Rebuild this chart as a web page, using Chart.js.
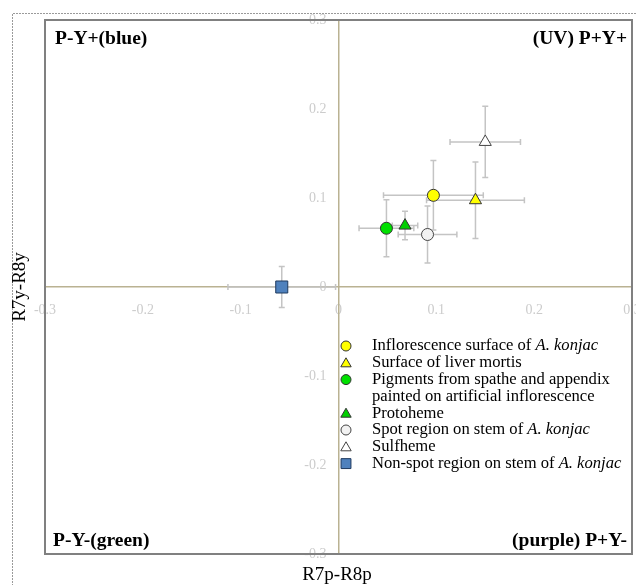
<!DOCTYPE html>
<html>
<head>
<meta charset="utf-8">
<script src="https://cdn.jsdelivr.net/npm/chart.js@4/dist/chart.umd.min.js"></script>
<style>
  html, body { margin: 0; padding: 0; background: #ffffff; }
  #wrap { width: 636px; height: 585px; }
</style>
</head>
<body>
<div id="wrap"><canvas id="c" width="636" height="585"></canvas></div>
<script>
// ---- data ----
const seriesLabels = [
  'Inflorescence surface of A. konjac',
  'Surface of liver mortis',
  'Pigments from spathe and appendix\npainted on artificial inflorescence',
  'Protoheme',
  'Spot region on stem of A. konjac',
  'Sulfheme',
  'Non-spot region on stem of A. konjac'
];
const xValues = [0.097, 0.140, 0.049, 0.068, 0.091, 0.150, -0.058];
const yValues = [0.103, 0.0975, 0.066, 0.069, 0.059, 0.163, 0.000];
const xErrors = [0.051, 0.050, 0.028, 0.013, 0.030, 0.036, 0.055];
const yErrors = [0.039, 0.043, 0.032, 0.016, 0.032, 0.040, 0.023];
const xTickLabels = ['-0.3', '-0.2', '-0.1', '0', '0.1', '0.2', '0.3'];
const yTickLabels = ['-0.3', '-0.2', '-0.1', '0', '0.1', '0.2', '0.3'];
const quadrantLabels = ['P-Y+(blue)', '(UV) P+Y+', 'P-Y-(green)', '(purple) P+Y-'];
const xTitle = 'R7p-R8p';
const yTitle = 'R7y-R8y';

// ---- styles ----
const markerStyles = [
  { pointStyle: 'circle',   radius: 6,   bg: '#ffff00', border: '#333333' },
  { pointStyle: 'triangle', radius: 7,   bg: '#ffff00', border: '#333333' },
  { pointStyle: 'circle',   radius: 6,   bg: '#00e000', border: '#333333' },
  { pointStyle: 'triangle', radius: 7,   bg: '#00d000', border: '#333333' },
  { pointStyle: 'circle',   radius: 6,   bg: '#f2f2f2', border: '#444444' },
  { pointStyle: 'triangle', radius: 7,   bg: '#ffffff', border: '#444444' },
  { pointStyle: 'rect',     radius: 8.5, bg: '#4f81bd', border: '#1f3a5f' }
];

const SERIF = '"Liberation Serif", "Times New Roman", serif';
const AXIS_COLOR = '#bab292';
const TICK_COLOR = '#cccccc';

const datasets = seriesLabels.map((lab, i) => ({
  label: lab,
  data: [{ x: xValues[i], y: yValues[i] }],
  xErr: xErrors[i],
  yErr: yErrors[i],
  pointStyle: markerStyles[i].pointStyle,
  pointRadius: markerStyles[i].radius,
  pointHoverRadius: markerStyles[i].radius,
  backgroundColor: markerStyles[i].bg,
  borderColor: markerStyles[i].border,
  borderWidth: 1
}));

const zeroPad = s => { s.paddingLeft = 0; s.paddingRight = 0; s.paddingTop = 0; s.paddingBottom = 0; };

const frame = {
  id: 'frame',
  beforeDraw(chart) {
    const ctx = chart.ctx;
    ctx.save();
    ctx.strokeStyle = '#9a9a9a';
    ctx.lineWidth = 1;
    ctx.setLineDash([2, 1]);
    ctx.beginPath();
    ctx.moveTo(12.5, 640);
    ctx.lineTo(12.5, 13.5);
    ctx.lineTo(700, 13.5);
    ctx.stroke();
    ctx.restore();
  },
  beforeDatasetsDraw(chart) {
    const ctx = chart.ctx;
    const xs = chart.scales.x, ys = chart.scales.y;
    ctx.save();
    // y tick labels, placed left of the centred vertical axis
    const axisX = xs.getPixelForValue(0);
    ctx.fillStyle = TICK_COLOR;
    ctx.font = '14px ' + SERIF;
    ctx.textAlign = 'right';
    ctx.textBaseline = 'middle';
    ys.ticks.forEach((t, i) => {
      ctx.fillText(yTickLabels[i], axisX - 12, ys.getPixelForValue(t.value));
    });
    // error bars
    ctx.strokeStyle = '#c4c4c4';
    ctx.lineWidth = 1.5;
    const cap = 3;
    chart.data.datasets.forEach(ds => {
      ds.data.forEach(p => {
        const px = xs.getPixelForValue(p.x), py = ys.getPixelForValue(p.y);
        const x1 = xs.getPixelForValue(p.x - ds.xErr), x2 = xs.getPixelForValue(p.x + ds.xErr);
        const y1 = ys.getPixelForValue(p.y - ds.yErr), y2 = ys.getPixelForValue(p.y + ds.yErr);
        ctx.beginPath();
        ctx.moveTo(x1, py); ctx.lineTo(x2, py);
        ctx.moveTo(x1, py - cap); ctx.lineTo(x1, py + cap);
        ctx.moveTo(x2, py - cap); ctx.lineTo(x2, py + cap);
        ctx.moveTo(px, y1); ctx.lineTo(px, y2);
        ctx.moveTo(px - cap, y1); ctx.lineTo(px + cap, y1);
        ctx.moveTo(px - cap, y2); ctx.lineTo(px + cap, y2);
        ctx.stroke();
      });
    });
    ctx.restore();
  },
  afterDraw(chart) {
    const ctx = chart.ctx;
    const a = chart.chartArea;
    ctx.save();
    // plot box
    ctx.strokeStyle = '#808080';
    ctx.lineWidth = 2;
    ctx.strokeRect(a.left, a.top, a.right - a.left, a.bottom - a.top);

    // quadrant labels
    ctx.fillStyle = '#000000';
    ctx.font = 'bold 19.5px ' + SERIF;
    ctx.textBaseline = 'alphabetic';
    ctx.textAlign = 'left';
    ctx.fillText(quadrantLabels[0], a.left + 10, a.top + 24);
    ctx.fillText(quadrantLabels[2], a.left + 8, a.bottom - 8);
    ctx.textAlign = 'right';
    ctx.fillText(quadrantLabels[1], a.right - 5, a.top + 24);
    ctx.fillText(quadrantLabels[3], a.right - 5, a.bottom - 8);

    // axis titles
    ctx.font = '19px ' + SERIF;
    ctx.textAlign = 'center';
    ctx.fillText(xTitle, 337, 580);
    ctx.save();
    ctx.translate(25, 287);
    ctx.rotate(-Math.PI / 2);
    ctx.fillText(yTitle, 0, 0);
    ctx.restore();

    // legend
    const lx = 346, tx = 372;
    let ly = 346;
    const lh = 16.8;
    const fs = 16.6;
    chart.data.datasets.forEach((ds, i) => {
      ctx.fillStyle = ds.backgroundColor;
      ctx.strokeStyle = ds.borderColor;
      ctx.lineWidth = 1;
      const r = ds.pointStyle === 'triangle' ? 6 : (ds.pointStyle === 'rect' ? 7 : 5);
      Chart.helpers.drawPoint(ctx, { pointStyle: ds.pointStyle, radius: r, rotation: 0, borderWidth: 1 }, lx, ly + (ds.pointStyle === 'triangle' ? 1 : 0));
      const lines = ds.label.split('\n');
      lines.forEach(line => {
        ctx.fillStyle = '#000000';
        ctx.textAlign = 'left';
        ctx.textBaseline = 'middle';
        let x = tx;
        const parts = line.split('A. konjac');
        parts.forEach((part, k) => {
          ctx.font = fs + 'px ' + SERIF;
          ctx.fillText(part, x, ly);
          x += ctx.measureText(part).width;
          if (k < parts.length - 1) {
            ctx.font = 'italic ' + fs + 'px ' + SERIF;
            ctx.fillText('A. konjac', x, ly);
            x += ctx.measureText('A. konjac').width;
          }
        });
        ly += lh;
      });
    });
    ctx.restore();
  }
};

new Chart(document.getElementById('c'), {
  type: 'scatter',
  data: { datasets },
  options: {
    responsive: false,
    animation: false,
    devicePixelRatio: 1,
    layout: { autoPadding: false, padding: { left: 45, top: 20, right: 4, bottom: 31 } },
    plugins: { legend: { display: false }, tooltip: { enabled: false } },
    scales: {
      x: {
        type: 'linear', min: -0.3, max: 0.3,
        position: { y: 0 },
        grid: { display: false, drawTicks: false },
        border: { display: true, color: AXIS_COLOR, width: 1.5 },
        ticks: {
          stepSize: 0.1, autoSkip: false, maxRotation: 0, color: TICK_COLOR, padding: 15,
          font: { family: SERIF, size: 14 },
          callback: (v, i) => xTickLabels[i]
        },
        afterFit: zeroPad
      },
      y: {
        type: 'linear', min: -0.3, max: 0.3,
        position: { x: 0 },
        grid: { display: false, drawTicks: false },
        border: { display: true, color: AXIS_COLOR, width: 1.5 },
        ticks: {
          display: false,
          stepSize: 0.1, autoSkip: false
        },
        afterFit: zeroPad
      }
    }
  },
  plugins: [frame]
});
</script>
</body>
</html>
